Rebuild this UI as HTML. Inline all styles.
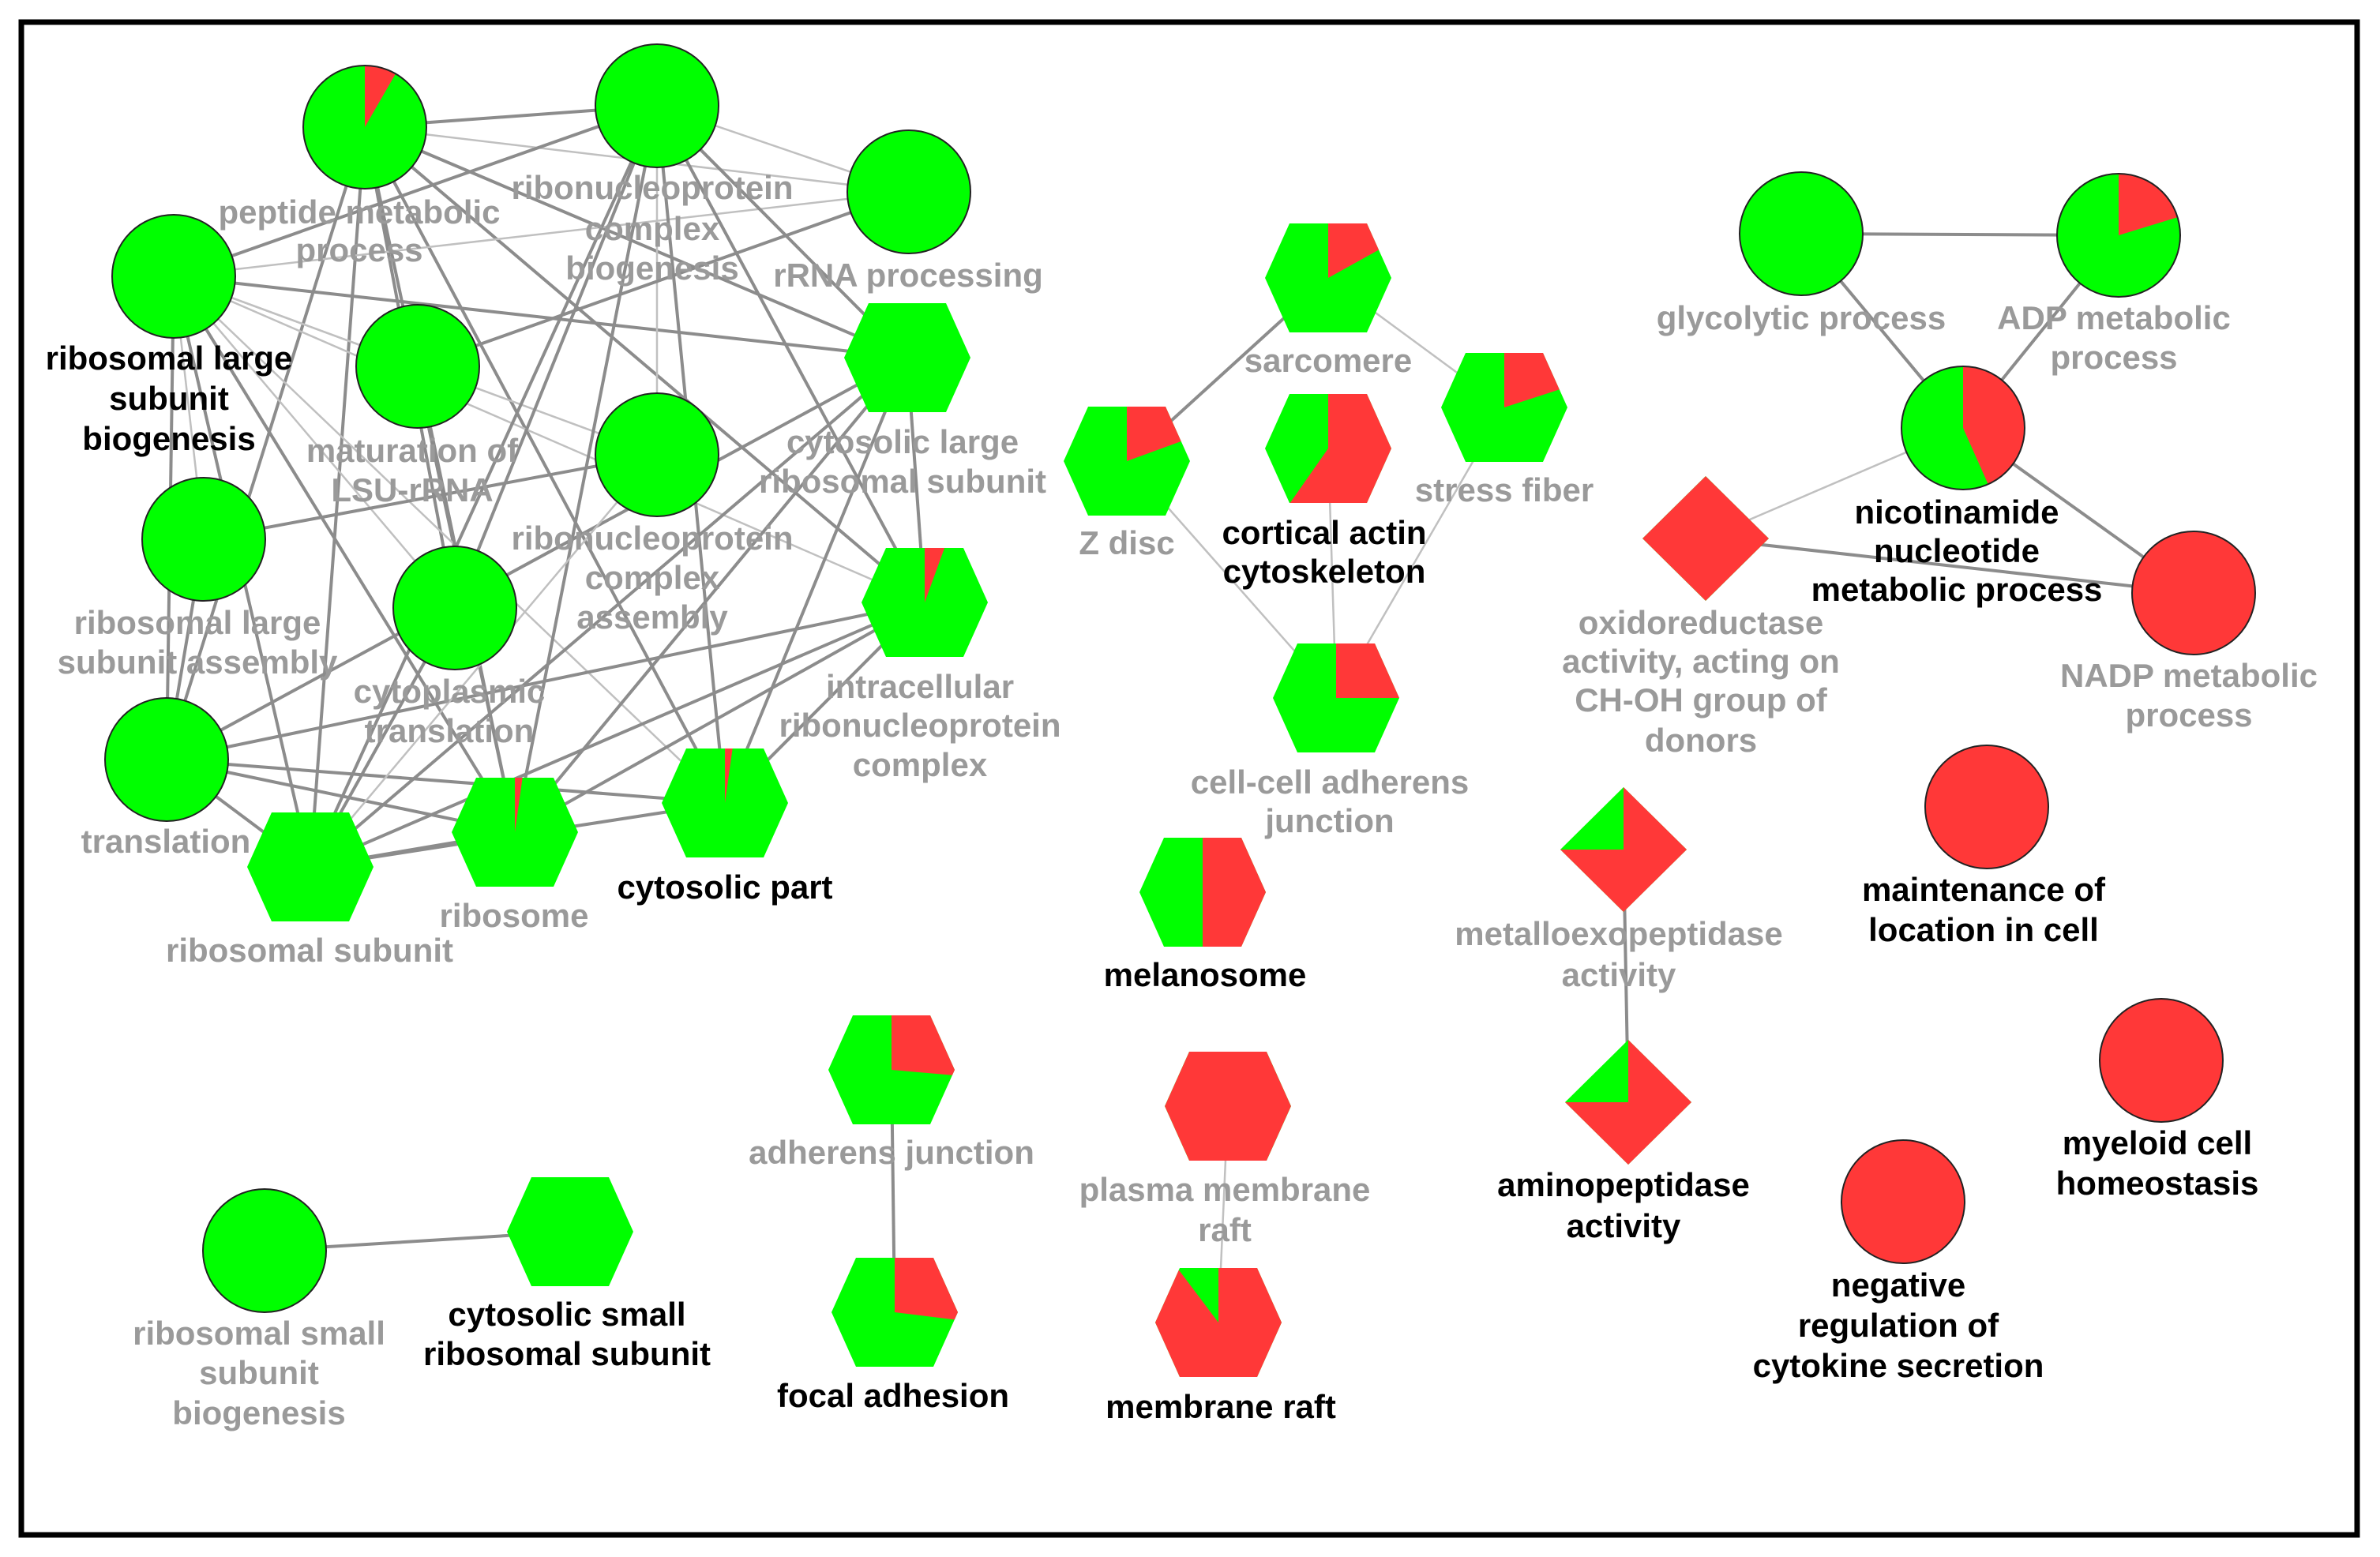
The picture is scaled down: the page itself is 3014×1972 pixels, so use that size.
<!DOCTYPE html>
<html><head><meta charset="utf-8"><style>
html,body{margin:0;padding:0;background:#fff}
svg{display:block}
text{font-family:"Liberation Sans",sans-serif;font-weight:bold;font-size:42px;text-anchor:middle}
.g{fill:#9a9a9a}.k{fill:#000}
</style></head><body>
<svg id="s" width="3014" height="1972" viewBox="0 0 3014 1972" xmlns="http://www.w3.org/2000/svg">
<rect x="0" y="0" width="3014" height="1972" fill="#fff"/>
<rect x="27" y="28" width="2958" height="1916" fill="none" stroke="#000" stroke-width="7"/>
<g id="edges"></g>
<g id="nodes"></g>
<g>
<text class="g" x="455" y="283">peptide metabolic</text><text class="g" x="455" y="331">process</text>
<text class="g" x="826" y="252">ribonucleoprotein</text><text class="g" x="826" y="304">complex</text><text class="g" x="826" y="354">biogenesis</text>
<text class="g" x="1150" y="363">rRNA processing</text>
<text class="k" x="214" y="468">ribosomal large</text><text class="k" x="214" y="519">subunit</text><text class="k" x="214" y="570">biogenesis</text>
<text class="g" x="522" y="585">maturation of</text><text class="g" x="522" y="635">LSU-rRNA</text>
<text class="g" x="1143" y="574">cytosolic large</text><text class="g" x="1143" y="624">ribosomal subunit</text>
<text class="g" x="826" y="696">ribonucleoprotein</text><text class="g" x="826" y="746">complex</text><text class="g" x="826" y="796">assembly</text>
<text class="g" x="250" y="803">ribosomal large</text><text class="g" x="250" y="853">subunit assembly</text>
<text class="g" x="569" y="890">cytoplasmic</text><text class="g" x="569" y="940">translation</text>
<text class="g" x="1165" y="884">intracellular</text><text class="g" x="1165" y="933">ribonucleoprotein</text><text class="g" x="1165" y="983">complex</text>
<text class="g" x="210" y="1080">translation</text>
<text class="k" x="918" y="1138">cytosolic part</text>
<text class="g" x="651" y="1174">ribosome</text>
<text class="g" x="392" y="1218">ribosomal subunit</text>
<text class="g" x="1682" y="471">sarcomere</text>
<text class="g" x="1427" y="702">Z disc</text>
<text class="k" x="1677" y="689">cortical actin</text><text class="k" x="1677" y="738">cytoskeleton</text>
<text class="g" x="1905" y="635">stress fiber</text>
<text class="g" x="1684" y="1005">cell-cell adherens</text><text class="g" x="1684" y="1054">junction</text>
<text class="g" x="2281" y="417">glycolytic process</text>
<text class="g" x="2677" y="417">ADP metabolic</text><text class="g" x="2677" y="467">process</text>
<text class="k" x="2478" y="663">nicotinamide</text><text class="k" x="2478" y="712">nucleotide</text><text class="k" x="2478" y="761">metabolic process</text>
<text class="g" x="2154" y="803">oxidoreductase</text><text class="g" x="2154" y="852">activity, acting on</text><text class="g" x="2154" y="901">CH-OH group of</text><text class="g" x="2154" y="952">donors</text>
<text class="g" x="2772" y="870">NADP metabolic</text><text class="g" x="2772" y="920">process</text>
<text class="k" x="2512" y="1141">maintenance of</text><text class="k" x="2512" y="1192">location in cell</text>
<text class="g" x="2050" y="1197">metalloexopeptidase</text><text class="g" x="2050" y="1249">activity</text>
<text class="k" x="1526" y="1249">melanosome</text>
<text class="g" x="1129" y="1474">adherens junction</text>
<text class="g" x="1551" y="1521">plasma membrane</text><text class="g" x="1551" y="1572">raft</text>
<text class="k" x="2732" y="1462">myeloid cell</text><text class="k" x="2732" y="1513">homeostasis</text>
<text class="k" x="2056" y="1515">aminopeptidase</text><text class="k" x="2056" y="1567">activity</text>
<text class="k" x="2404" y="1642">negative</text><text class="k" x="2404" y="1693">regulation of</text><text class="k" x="2404" y="1744">cytokine secretion</text>
<text class="k" x="718" y="1679">cytosolic small</text><text class="k" x="718" y="1729">ribosomal subunit</text>
<text class="g" x="328" y="1703">ribosomal small</text><text class="g" x="328" y="1753">subunit</text><text class="g" x="328" y="1804">biogenesis</text>
<text class="k" x="1131" y="1782">focal adhesion</text>
<text class="k" x="1546" y="1796">membrane raft</text>
</g>
</svg>
<script>
var NS="http://www.w3.org/2000/svg";
var N={
P:['c',462,161,0,30],RB:['c',832,134],RR:['c',1151,243],RLB:['c',220,350],M:['c',529,464],
RCA:['c',832,576],RLA:['c',258,683],CT:['c',576,770],T:['c',211,962],
CLR:['h',1149,453],IRC:['h',1171,763,0,20],CP:['h',918,1017,0,8],RIB:['h',652,1054,0,8],RS:['h',393,1098],
SAR:['h',1682,352,0,61],ZD:['h',1427,584,0,70],COR:['h',1682,568,0,215],SF:['h',1905,516,0,72],CC:['h',1692,884,0,90],
GLY:['c',2281,296],ADP:['c',2683,298,0,73],NIC:['c',2486,542,0,156],NADP:['c',2778,751,0,360],OX:['d',2160,682,0,360],
MAIN:['c',2516,1022,0,360],MET:['d',2056,1076,0,270],AMI:['d',2062,1396,0,270],NEG:['c',2410,1522,0,360],MYE:['c',2737,1343,0,360],
MEL:['h',1523,1130,0,180],PMR:['h',1555,1401,0,360],MR:['h',1543,1675,0,323],
AJ:['h',1129,1355,0,95],FA:['h',1133,1662,0,97],RSSB:['c',335,1584],CSRS:['h',722,1560]};
var E=[
['P','RB',1],['P','RR',0],['P','CLR',1],['P','IRC',1],['P','CP',1],['P','RS',1],['P','RIB',1],['P','CT',1],['P','T',1],
['RLB','RB',1],['RLB','RR',0],['RLB','CLR',1],['RLB','M',0],['RLB','RCA',0],['RLB','CT',0],['RLB','T',1],['RLB','RS',1],['RLB','RIB',1],['RLB','IRC',0],['RLB','CP',0],
['RB','CT',1],['RB','RIB',1],['RB','CP',1],['RB','IRC',1],['RB','CLR',1],['RB','RS',1],['RB','RR',0],['RB','RCA',0],
['M','RIB',1],['M','RR',1],['RLA','RCA',1],['RLA','RLB',0],['T','CLR',1],['T','IRC',1],['T','RIB',1],['T','CP',1],['T','RS',1],['RLA','T',1],
['RS','IRC',1],['RS','CLR',1],['RS','CP',1],['RS','RIB',1],['RIB','IRC',1],['RIB','CLR',1],['CP','IRC',1],['CLR','IRC',1],['CP','CLR',1],['RCA','RS',0],['CT','RS',1],
['SAR','ZD',1],['SAR','SF',0],['ZD','CC',0],['COR','CC',0],['SF','CC',0],
['GLY','ADP',1],['GLY','NIC',1],['ADP','NIC',1],['NIC','NADP',1],['OX','NIC',0],['OX','NADP',1],
['MET','AMI',1],['AJ','FA',1],['RSSB','CSRS',1],['PMR','MR',0]];
var eg=document.getElementById('edges'),ng=document.getElementById('nodes');
E.forEach(function(e){var a=N[e[0]],b=N[e[1]],l=document.createElementNS(NS,'line');
l.setAttribute('x1',a[1]);l.setAttribute('y1',a[2]);l.setAttribute('x2',b[1]);l.setAttribute('y2',b[2]);
l.setAttribute('stroke',e[2]?'#8c8c8c':'#c0c0c0');l.setAttribute('stroke-width',e[2]?4:2.5);eg.appendChild(l);});
function shape(t,x,y){
 if(t=='c'){var c=document.createElementNS(NS,'ellipse');c.setAttribute('cx',x);c.setAttribute('cy',y);c.setAttribute('rx',78);c.setAttribute('ry',78);return c;}
 var p=document.createElementNS(NS,'polygon'),pts;
 if(t=='h')pts=[[x-80,y],[x-49,y-69],[x+49,y-69],[x+80,y],[x+49,y+69],[x-49,y+69]];
 else pts=[[x-80,y],[x,y-112+33],[x+80,y],[x,y+79]];
 p.setAttribute('points',pts.map(function(q){return q.join(',')}).join(' '));return p;}
var i=0;
for(var k in N){var n=N[k],t=n[0],x=n[1],y=n[2];i++;
 var cp=document.createElementNS(NS,'clipPath');cp.setAttribute('id','cp'+i);cp.appendChild(shape(t,x,y));ng.appendChild(cp);
 var s=shape(t,x,y);s.setAttribute('fill','#00ff00');ng.appendChild(s);
 if(n.length>3){var a0=n[3],a1=n[4],R=130,r;
  if(a1-a0>=360){r=shape(t,x,y);}
  else{r=document.createElementNS(NS,'path');var rad=function(a){return a*Math.PI/180};
   var x0=x+R*Math.sin(rad(a0)),y0=y-R*Math.cos(rad(a0)),x1=x+R*Math.sin(rad(a1)),y1=y-R*Math.cos(rad(a1));
   r.setAttribute('d','M'+x+','+y+' L'+x0+','+y0+' A'+R+','+R+' 0 '+((a1-a0)>180?1:0)+' 1 '+x1+','+y1+' Z');}
  r.setAttribute('fill','#ff3838');r.setAttribute('clip-path','url(#cp'+i+')');ng.appendChild(r);}
 if(t=='c'){var o=shape(t,x,y);o.setAttribute('fill','none');o.setAttribute('stroke','#222');o.setAttribute('stroke-width',2);ng.appendChild(o);}
}
</script>
</body></html>
